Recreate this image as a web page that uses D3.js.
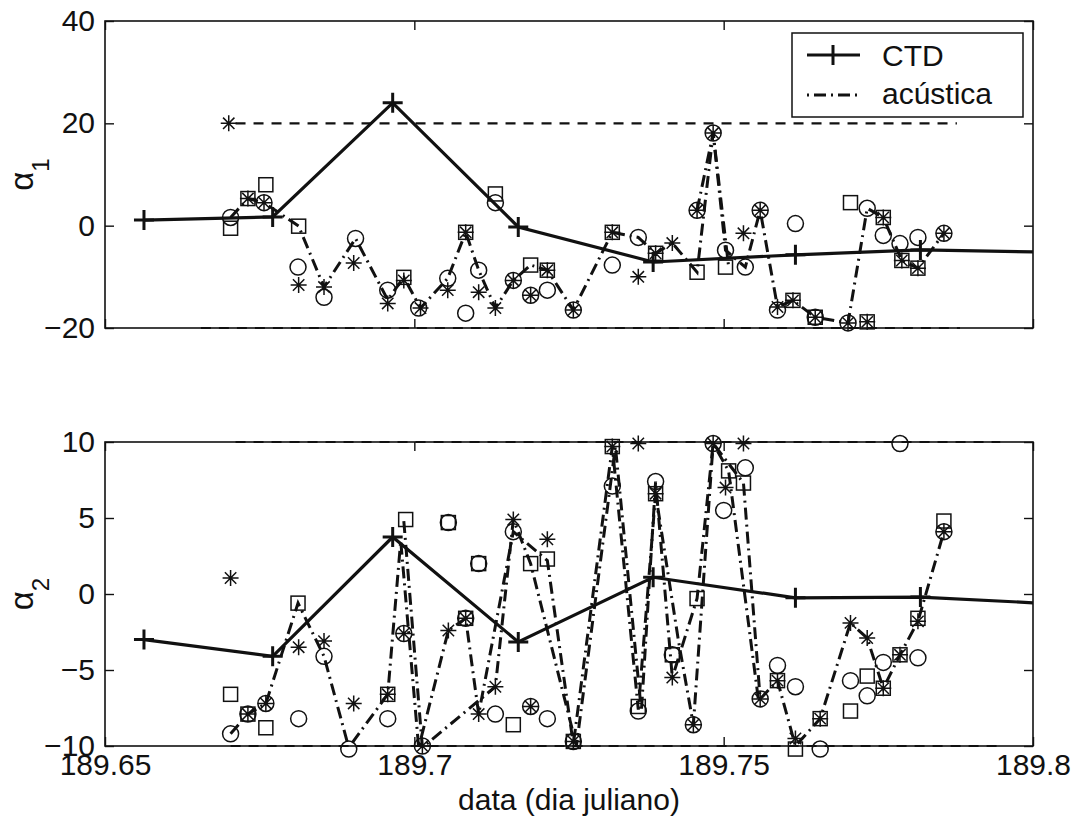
<!DOCTYPE html>
<html>
<head>
<meta charset="utf-8">
<script src="https://cdn.jsdelivr.net/npm/d3@7"></script>
<style>
  body { margin: 0; background: #fff; }
  svg { display: block; }
  text { font-family: "Liberation Sans", Arial, Helvetica, sans-serif; fill: #111; }
</style>
</head>
<body>
<svg id="chart" width="1082" height="825"></svg>
<script>
// ---- axis ticks ----
const xTicks = [189.65, 189.7, 189.75, 189.8];
const xTickLabels = ["189.65", "189.7", "189.75", "189.8"];
const a1Ticks = [-20, 0, 20, 40];
const a2Ticks = [-10, -5, 0, 5, 10];

// ---- CTD profile (solid line with + markers) ----
const ctdTime   = [189.6563, 189.6771, 189.6965, 189.7168, 189.7386, 189.7616, 189.7818, 189.8035];
const ctdAlpha1 = [1.1, 1.7, 24.0, -0.25, -7.1, -5.7, -4.75, -5.2];
const ctdAlpha2 = [-3.0, -4.1, 3.75, -3.15, 1.1, -0.25, -0.2, -0.65];

// ---- acoustic estimates, alpha 1: [day, value] ----
const a1Circle = [[189.6703,1.6],[189.6757,4.5],[189.6812,-8.1],[189.6854,-14.0],[189.6905,-2.5],[189.6957,-12.6],
  [189.7007,-16.1],[189.7054,-10.3],[189.7083,-17.1],[189.7104,-8.7],[189.7131,4.5],[189.7160,-10.7],[189.7188,-13.6],
  [189.7215,-12.6],[189.7257,-16.5],[189.7320,-7.7],[189.7362,-2.3],[189.7457,3.0],[189.7483,18.1],[189.7503,-4.8],
  [189.7535,-8.1],[189.7559,3.0],[189.7587,-16.5],[189.7616,0.4],[189.7648,-17.9],[189.7701,-19.0],[189.7732,3.4],
  [189.7758,-1.9],[189.7785,-3.5],[189.7814,-2.3],[189.7856,-1.5]];
const a1Square = [[189.6703,-0.5],[189.6731,5.3],[189.6760,8.0],[189.6813,-0.1],[189.6983,-10.1],[189.7083,-1.3],
  [189.7131,6.2],[189.7188,-7.7],[189.7215,-8.7],[189.7320,-1.3],[189.7390,-5.4],[189.7457,-9.1],[189.7503,-8.1],
  [189.7612,-14.6],[189.7648,-17.9],[189.7705,4.5],[189.7732,-18.8],[189.7758,1.6],[189.7788,-6.8],[189.7814,-8.3]];
const a1Star = [[189.6700,20.0],[189.6731,5.3],[189.6757,4.5],[189.6813,-11.6],[189.6854,-12.0],[189.6902,-7.3],
  [189.6957,-15.2],[189.6983,-10.7],[189.7010,-16.1],[189.7054,-12.6],[189.7083,-1.3],[189.7104,-13.0],[189.7131,-16.1],
  [189.7160,-10.7],[189.7188,-13.6],[189.7215,-8.7],[189.7257,-16.5],[189.7320,-1.3],[189.7362,-10.0],[189.7390,-5.4],
  [189.7417,-3.4],[189.7457,3.0],[189.7483,18.1],[189.7532,-1.5],[189.7559,3.0],[189.7587,-15.9],[189.7612,-14.6],
  [189.7648,-17.9],[189.7701,-19.0],[189.7732,-18.8],[189.7758,1.6],[189.7788,-6.8],[189.7814,-8.3],[189.7856,-1.5]];
const a1Path = [[189.6703,1.6],[189.6731,5.3],[189.6757,4.5],[189.6813,-0.1],[189.6854,-12.0],[189.6905,-2.5],
  [189.6957,-14.5],[189.6983,-10.1],[189.7010,-16.1],[189.7054,-10.3],[189.7083,-1.3],[189.7104,-8.7],[189.7131,-16.1],
  [189.7160,-10.7],[189.7188,-7.7],[189.7215,-8.7],[189.7257,-16.5],[189.7320,-1.3],[189.7362,-2.3],[189.7390,-5.4],
  [189.7417,-3.4],[189.7457,-9.1],[189.7483,18.1],[189.7503,-4.8],[189.7535,-8.1],[189.7559,3.0],[189.7587,-15.9],
  [189.7612,-14.6],[189.7648,-17.9],[189.7701,-19.0],[189.7732,3.4],[189.7758,1.6],[189.7788,-6.8],[189.7814,-8.3],
  [189.7856,-1.5]];
const a1PathB = [[189.7457,3.0],[189.7483,18.1],[189.7508,-8.0]];
const a1Bounds = [[189.6711, 189.7877, 20], [189.6655, 189.7882, -20]];

// ---- acoustic estimates, alpha 2 ----
const a2Circle = [[189.6703,-9.2],[189.6731,-7.9],[189.6760,-7.2],[189.6813,-8.2],[189.6854,-4.1],[189.6894,-10.2],
  [189.6957,-8.2],[189.6983,-2.6],[189.7013,-10.0],[189.7055,4.7],[189.7083,-1.6],[189.7104,2.0],[189.7131,-7.9],
  [189.7160,4.1],[189.7188,-7.4],[189.7215,-8.2],[189.7257,-9.7],[189.7320,7.1],[189.7362,-7.7],[189.7390,7.4],
  [189.7417,-4.0],[189.7451,-8.6],[189.7483,9.9],[189.7500,5.5],[189.7535,8.3],[189.7559,-6.9],[189.7587,-4.7],
  [189.7616,-6.1],[189.7656,-10.2],[189.7705,-5.7],[189.7732,-6.7],[189.7758,-4.5],[189.7785,9.9],[189.7814,-4.2],
  [189.7856,4.1]];
const a2Square = [[189.6703,-6.6],[189.6731,-7.9],[189.6760,-8.8],[189.6812,-0.6],[189.6957,-6.6],[189.6986,4.9],
  [189.7055,4.7],[189.7083,-1.6],[189.7104,2.0],[189.7160,-8.6],[189.7188,2.0],[189.7215,2.3],[189.7257,-9.7],
  [189.7320,9.7],[189.7362,-7.4],[189.7390,6.6],[189.7417,-4.0],[189.7457,-0.3],[189.7508,8.1],[189.7532,7.3],
  [189.7587,-5.7],[189.7616,-10.2],[189.7656,-8.2],[189.7705,-7.7],[189.7732,-5.4],[189.7758,-6.2],[189.7785,-4.0],
  [189.7814,-1.6],[189.7856,4.8]];
const a2Star = [[189.6703,1.05],[189.6731,-7.9],[189.6760,-7.2],[189.6813,-3.5],[189.6854,-3.1],[189.6902,-7.2],
  [189.6957,-6.6],[189.6983,-2.6],[189.7013,-10.0],[189.7055,-2.4],[189.7083,-1.6],[189.7104,-7.9],[189.7131,-6.1],
  [189.7160,4.9],[189.7188,-7.4],[189.7215,3.6],[189.7257,-9.7],[189.7320,9.7],[189.7362,9.9],[189.7390,6.6],
  [189.7417,-5.5],[189.7451,-8.6],[189.7483,9.9],[189.7503,7.0],[189.7532,9.9],[189.7559,-6.9],[189.7587,-5.7],
  [189.7616,-9.5],[189.7656,-8.2],[189.7705,-1.9],[189.7732,-2.9],[189.7758,-6.2],[189.7785,-4.0],[189.7814,-1.8],
  [189.7856,4.1]];
const a2Path = [[189.6703,-9.2],[189.6731,-7.9],[189.6760,-7.2],[189.6812,-0.6],[189.6854,-4.1],[189.6894,-10.1],
  [189.6957,-6.6],[189.6978,3.5],[189.7007,-10.1],[189.7055,-2.4],[189.7083,-1.6],[189.7104,-7.9],[189.7160,4.1],
  [189.7215,2.2],[189.7257,-9.9],[189.7320,9.7],[189.7362,-7.6],[189.7390,6.6],[189.7427,-3.1],[189.7451,-8.6],
  [189.7483,9.9],[189.7532,7.3],[189.7559,-6.9],[189.7587,-5.7],[189.7616,-10.0],[189.7656,-8.2],[189.7705,-1.9],
  [189.7732,-2.9],[189.7758,-6.2],[189.7785,-4.0],[189.7814,-1.8],[189.7856,4.1]];
const a2PathB = [[189.6983,4.8],[189.7013,-10.1],[189.7131,-6.1],[189.7160,4.9],[189.7188,2.0],[189.7262,-10.0],
  [189.7325,9.7],[189.7367,-7.7],[189.7390,7.4],[189.7417,-5.5],[189.7457,-0.3],[189.7483,9.9],[189.7508,8.1],
  [189.7556,-6.9]];
const a2Bounds = [[189.6711, 189.7947, 10], [189.6703, 189.7947, -10]];

// ---- layout ----
const svg = d3.select("#chart");
const W = 1082, H = 825;
svg.append("rect").attr("width", W).attr("height", H).attr("fill", "#fff");

const left = 105, right = 1033;
const x = d3.scaleLinear().domain([189.65, 189.8]).range([left, right]);

const panels = [
  { top: 21, bottom: 328, domain: [-20, 40], ticks: a1Ticks, sub: "1",
    ctd: ctdAlpha1, circ: a1Circle, sq: a1Square, star: a1Star, paths: [a1Path, a1PathB], bounds: a1Bounds, xLabels: false },
  { top: 442, bottom: 746, domain: [-10, 10], ticks: a2Ticks, sub: "2",
    ctd: ctdAlpha2, circ: a2Circle, sq: a2Square, star: a2Star, paths: [a2Path, a2PathB], bounds: a2Bounds, xLabels: true }
];

const defs = svg.append("defs");
const TICK = 9;
const INK = "#111";

panels.forEach((p, i) => {
  const y = d3.scaleLinear().domain(p.domain).range([p.bottom, p.top]);
  const g = svg.append("g");

  const clipId = "clip" + i;
  defs.append("clipPath").attr("id", clipId)
    .append("rect").attr("x", left).attr("y", p.top)
    .attr("width", right - left).attr("height", p.bottom - p.top);

  // dashed bounds
  g.append("g").selectAll("line").data(p.bounds).join("line")
    .attr("x1", d => x(d[0])).attr("x2", d => x(d[1]))
    .attr("y1", d => y(d[2])).attr("y2", d => y(d[2]))
    .attr("stroke", INK).attr("stroke-width", 2.2)
    .attr("stroke-dasharray", "10,8");

  // frame
  g.append("rect").attr("x", left).attr("y", p.top)
    .attr("width", right - left).attr("height", p.bottom - p.top)
    .attr("fill", "none").attr("stroke", INK).attr("stroke-width", 1.6);

  // y axes (inward ticks, labels on the left)
  const yl = g.append("g").attr("transform", `translate(${left},0)`)
    .call(d3.axisLeft(y).tickValues(p.ticks).tickSize(-TICK).tickPadding(10));
  yl.select(".domain").remove();
  yl.selectAll("line").attr("stroke", INK).attr("stroke-width", 1.4);
  yl.selectAll("text").attr("font-size", 30).attr("fill", INK)
    .attr("font-family", '"Liberation Sans", Arial, sans-serif');

  const yr = g.append("g").attr("transform", `translate(${right},0)`)
    .call(d3.axisRight(y).tickValues(p.ticks).tickSize(-TICK).tickFormat(""));
  yr.select(".domain").remove();
  yr.selectAll("line").attr("stroke", INK).attr("stroke-width", 1.4);

  // x axes
  const xb = g.append("g").attr("transform", `translate(0,${p.bottom})`)
    .call(d3.axisBottom(x).tickValues(xTicks).tickSize(-TICK).tickPadding(8)
      .tickFormat((d, k) => p.xLabels ? xTickLabels[k] : ""));
  xb.select(".domain").remove();
  xb.selectAll("line").attr("stroke", INK).attr("stroke-width", 1.4);
  xb.selectAll("text").attr("font-size", 30).attr("fill", INK)
    .attr("font-family", '"Liberation Sans", Arial, sans-serif');

  const xt = g.append("g").attr("transform", `translate(0,${p.top})`)
    .call(d3.axisTop(x).tickValues(xTicks).tickSize(-TICK).tickFormat(""));
  xt.select(".domain").remove();
  xt.selectAll("line").attr("stroke", INK).attr("stroke-width", 1.4);

  // y label
  const cy = (p.top + p.bottom) / 2;
  const lab = g.append("text")
    .attr("transform", `translate(33,${cy}) rotate(-90)`)
    .attr("text-anchor", "middle").attr("font-size", 33);
  lab.append("tspan").text("α");
  lab.append("tspan").attr("dy", 16).attr("font-size", 24).text(p.sub);

  // acoustic dash-dot lines
  const line = d3.line().x(d => x(d[0])).y(d => y(d[1]));
  const lines = g.append("g").attr("clip-path", `url(#${clipId})`);
  p.paths.forEach(path => {
    lines.append("path").datum(path).attr("d", line)
      .attr("fill", "none").attr("stroke", INK).attr("stroke-width", 3)
      .attr("stroke-dasharray", "12,5,2,5");
  });

  // markers
  const mk = g.append("g").attr("fill", "none").attr("stroke", INK).attr("stroke-width", 1.5);
  mk.selectAll("circle").data(p.circ).join("circle")
    .attr("cx", d => x(d[0])).attr("cy", d => y(d[1])).attr("r", 8);
  mk.selectAll("rect.sq").data(p.sq).join("rect").attr("class", "sq")
    .attr("x", d => x(d[0]) - 7).attr("y", d => y(d[1]) - 7)
    .attr("width", 14).attr("height", 14);
  const s = 8, dg = 5.7;
  mk.selectAll("path.st").data(p.star).join("path").attr("class", "st")
    .attr("d", d => {
      const cx = x(d[0]), cyy = y(d[1]);
      return `M${cx - s},${cyy}H${cx + s}M${cx},${cyy - s}V${cyy + s}` +
             `M${cx - dg},${cyy - dg}L${cx + dg},${cyy + dg}M${cx - dg},${cyy + dg}L${cx + dg},${cyy - dg}`;
    });

  // CTD solid line with plus markers
  const ctdPts = ctdTime.map((t, k) => [t, p.ctd[k]]);
  const ctdG = g.append("g").attr("clip-path", `url(#${clipId})`);
  ctdG.append("path").datum(ctdPts).attr("d", line)
    .attr("fill", "none").attr("stroke", INK).attr("stroke-width", 3.2);
  ctdG.selectAll("path.plus").data(ctdPts).join("path").attr("class", "plus")
    .attr("d", d => {
      const cx = x(d[0]), cyy = y(d[1]);
      return `M${cx - 10},${cyy}H${cx + 10}M${cx},${cyy - 10}V${cyy + 10}`;
    })
    .attr("stroke", INK).attr("stroke-width", 3);
});

// x label
svg.append("text").attr("x", (left + right) / 2).attr("y", 810)
  .attr("text-anchor", "middle").attr("font-size", 30).text("data (dia juliano)");

// legend
const lg = svg.append("g");
lg.append("rect").attr("x", 792).attr("y", 33).attr("width", 231).attr("height", 84)
  .attr("fill", "#fff").attr("stroke", INK).attr("stroke-width", 1.5);
lg.append("line").attr("x1", 807).attr("x2", 860).attr("y1", 55).attr("y2", 55)
  .attr("stroke", INK).attr("stroke-width", 3.2);
lg.append("path").attr("d", "M833,45V65").attr("stroke", INK).attr("stroke-width", 3);
lg.append("text").attr("x", 882).attr("y", 66).attr("font-size", 30).text("CTD");
lg.append("line").attr("x1", 807).attr("x2", 860).attr("y1", 95).attr("y2", 95)
  .attr("stroke", INK).attr("stroke-width", 3).attr("stroke-dasharray", "2,5,12,5");
lg.append("text").attr("x", 882).attr("y", 104).attr("font-size", 30).text("acústica");
</script>
</body>
</html>
